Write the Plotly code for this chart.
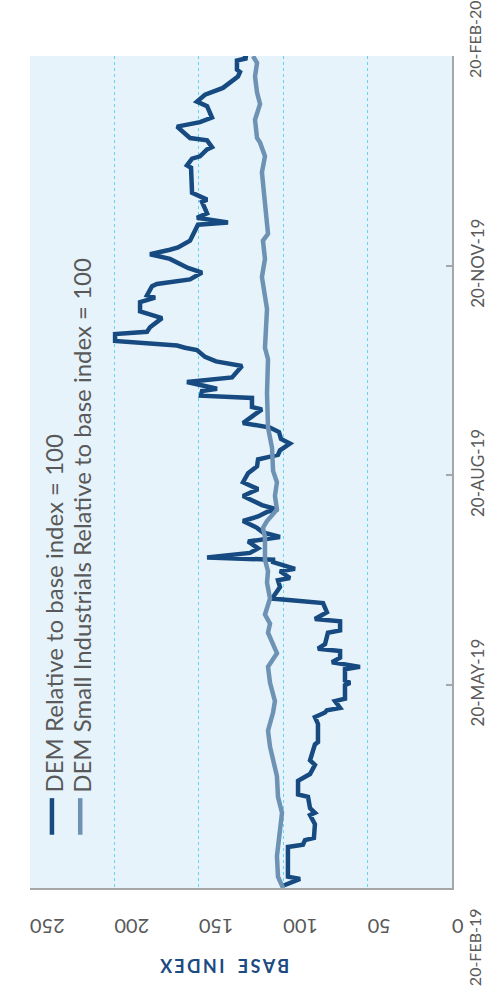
import pandas as pd
import plotly.graph_objects as go

# ---------------- data ----------------
start_date = pd.Timestamp("2019-02-20")

series_names = [
    "DEM Relative to base index = 100",
    "DEM Small Industrials Relative to base index = 100",
]

# day offsets from 20-Feb-2019 and index values, DEM
dem_days = [1, 4, 5, 18, 19, 21, 22, 28, 32, 33,
            35, 40, 41, 47, 50, 54, 56, 63, 64, 72,
            75, 77, 78, 79, 82, 83, 89, 90, 91, 96,
            97, 99, 101, 104, 105, 107, 112, 113, 117, 118,
            121, 125, 127, 129, 132, 135, 136, 139, 140, 143,
            144, 145, 147, 149, 152, 154, 156, 158, 161, 163,
            165, 166, 168, 172, 175, 178, 182, 185, 188, 189,
            190, 192, 195, 197, 200, 202, 204, 210, 211, 215,
            216, 218, 219, 222, 224, 229, 231, 233, 236, 237,
            238, 240, 243, 244, 246, 250, 253, 257, 259, 260,
            264, 265, 267, 270, 272, 276, 278, 280, 281, 284,
            288, 291, 292, 294, 296, 301, 302, 305, 316, 317,
            320, 321, 324, 325, 328, 329, 334, 336, 338, 343,
            345, 348, 351, 354, 356, 358, 359, 363, 364, 365]
dem_values = [100.1, 90.0, 97.2, 97.2, 88.3, 87.1, 81.8, 81.2, 84.1, 81.2,
              84.1, 85.3, 91.2, 91.2, 84.1, 81.2, 84.1, 81.2, 79.4, 79.4,
              81.2, 75.2, 74.1, 66.3, 69.3, 63.4, 63.4, 60.4, 63.4, 63.4,
              54.5, 71.1, 66.3, 66.3, 79.4, 75.2, 73.5, 66.3, 66.3, 81.2,
              74.1, 76.4, 106.6, 104.9, 101.9, 103.1, 96.0, 101.9, 93.0, 106.0,
              106.0, 145.1, 119.7, 114.9, 120.8, 101.9, 112.0, 115.5, 123.8, 114.9,
              109.6, 103.1, 112.6, 123.8, 114.9, 123.8, 120.8, 115.5, 114.9, 109.0,
              103.1, 101.9, 96.0, 101.3, 102.5, 107.8, 123.8, 112.6, 118.5, 118.5,
              148.7, 148.1, 139.2, 157.0, 130.3, 124.4, 139.8, 146.3, 151.1, 158.2,
              162.9, 199.6, 199.6, 180.7, 178.9, 171.8, 184.8, 184.8, 175.9, 180.7,
              177.7, 174.8, 155.2, 148.1, 156.4, 167.1, 178.9, 167.1, 162.3, 155.2,
              152.2, 150.5, 132.7, 151.1, 145.1, 148.1, 145.1, 154.0, 154.6, 157.0,
              154.0, 149.3, 145.1, 142.2, 145.1, 155.2, 162.9, 149.3, 142.2, 145.1,
              151.1, 146.3, 135.7, 129.7, 126.8, 125.6, 127.4, 127.4, 121.4, 123.8]

# day offsets and index values, DEM Small Industrials
ind_days = [0, 5, 14, 25, 33, 40, 49, 62, 69, 77,
            82, 90, 97, 103, 112, 116, 120, 127, 134, 139,
            144, 154, 158, 161, 166, 172, 178, 183, 193, 202,
            217, 232, 237, 254, 268, 276, 284, 287, 299, 314,
            321, 327, 329, 337, 344, 349, 356, 362, 365]
ind_values = [100.1, 103.1, 103.7, 101.9, 100.7, 103.1, 103.7, 107.8, 109.0, 106.0,
              104.9, 107.8, 109.0, 103.7, 109.0, 107.8, 110.8, 107.8, 109.6, 109.0,
              110.8, 110.8, 112.0, 109.6, 103.7, 104.9, 103.7, 106.0, 106.6, 109.0,
              109.6, 109.0, 110.8, 109.6, 112.6, 110.8, 112.0, 109.0, 110.8, 112.6,
              110.8, 113.7, 115.5, 116.7, 113.7, 115.5, 116.7, 115.5, 117.9]

date_ticks = ["2019-02-20", "2019-05-20", "2019-08-20", "2019-11-20", "2020-02-20"]
date_tick_labels = ["20-FEB-19", "20-MAY-19", "20-AUG-19", "20-NOV-19", "20-FEB-20"]
value_ticks = [0, 50, 100, 150, 200, 250]
axis_title = "BASE INDEX"

# ---------------- figure ----------------
dem_dates = start_date + pd.to_timedelta(dem_days, unit="D")
ind_dates = start_date + pd.to_timedelta(ind_days, unit="D")

DARK = "#164a80"
LIGHT = "#6d92b4"
GREY_TXT = "#595959"
FONT = "Lato"

fig = go.Figure()
fig.add_trace(go.Scatter(x=dem_values, y=dem_dates, mode="lines", name=series_names[0],
                         line=dict(color=DARK, width=4.5)))
fig.add_trace(go.Scatter(x=ind_values, y=ind_dates, mode="lines", name=series_names[1],
                         line=dict(color=LIGHT, width=4.5)))

fig.update_layout(
    width=491, height=987,
    margin=dict(l=30, r=39, t=56, b=99, autoexpand=False),
    paper_bgcolor="white",
    plot_bgcolor="#e6f3fa",
    showlegend=False,
    font=dict(family=FONT, color=GREY_TXT, size=17),
)

fig.update_xaxes(
    range=[250, 0],
    tickvals=value_ticks,
    tickangle=180,
    showgrid=True, gridcolor="#5fd6f2", griddash="dot", gridwidth=1,
    zeroline=False,
    showline=True, linecolor="#a6a6a6", linewidth=2,
    ticks="",
    automargin=False,
    ticklabelstandoff=25,
    tickfont=dict(size=20, color=GREY_TXT, family=FONT),
)

# middle date labels on the axis; the two end labels are pushed outward as in the reference
mid_text = ["" if i in (0, len(date_tick_labels) - 1) else t for i, t in enumerate(date_tick_labels)]
fig.update_yaxes(
    type="date",
    range=[date_ticks[0], date_ticks[-1]],
    side="right",
    tickvals=date_ticks,
    ticktext=mid_text,
    tickangle=-90,
    showgrid=False,
    zeroline=False,
    showline=True, linecolor="#a6a6a6", linewidth=2,
    ticks="inside", ticklen=6, tickcolor="#a6a6a6", tickwidth=1.5,
    automargin=False,
    ticklabelstandoff=10,
    tickfont=dict(size=17, color=GREY_TXT, family=FONT),
)

for label, ypos, anchor in [(date_tick_labels[0], -0.0228, "top"),
                            (date_tick_labels[-1], 0.9724, "bottom")]:
    fig.add_annotation(text=label, xref="paper", yref="paper", x=1.03, y=ypos,
                       xanchor="left", yanchor=anchor, showarrow=False, textangle=-90,
                       borderpad=0,
                       font=dict(family=FONT, size=16, color=GREY_TXT))

# axis title (upside down, as in the reference)
fig.add_annotation(
    text="B\u2009A\u2009S\u2009E\u2003I\u2009N\u2009D\u2009E\u2009X",
    xref="paper", yref="paper", x=0.46, y=-0.094,
    xanchor="center", yanchor="middle",
    showarrow=False, textangle=180,
    font=dict(family=FONT, size=18, color="#1b4b82", weight="bold"),
)

# rotated legend
legend_x = [0.055, 0.122]
legend_line_x = [0.052, 0.119]
for name, color, tx, lx in zip(series_names, [DARK, LIGHT], legend_x, legend_line_x):
    fig.add_annotation(text=name, xref="paper", yref="paper", x=tx, y=0.112,
                       xanchor="center", yanchor="bottom", showarrow=False,
                       textangle=-90, font=dict(family=FONT, size=24, color=GREY_TXT))
    fig.add_shape(type="line", xref="paper", yref="paper", x0=lx, x1=lx, y0=0.064, y1=0.108,
                  line=dict(color=color, width=4.5))

fig.write_html("out.html")
